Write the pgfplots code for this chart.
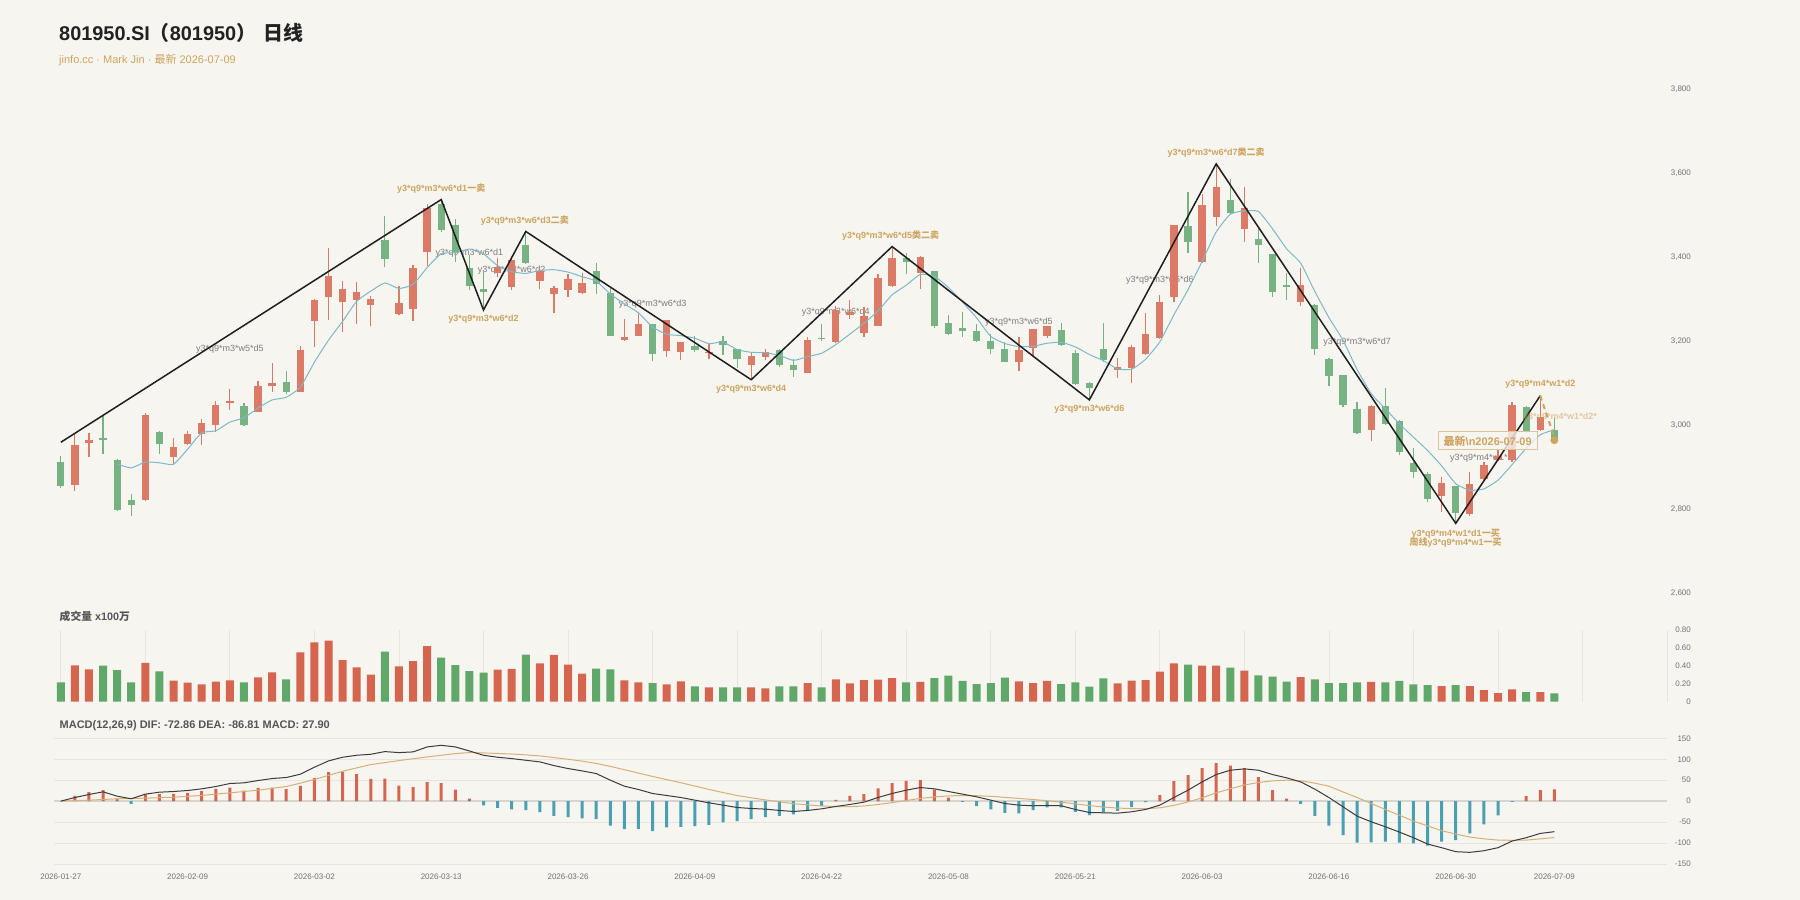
\documentclass[border=0pt]{standalone}
\usepackage{pgfplots}
\usepackage{pgfplotstable}
\pgfplotsset{compat=1.18}
\usepackage{fontspec}
\setmainfont{Liberation Sans}
\newfontfamily\cjk{Noto Sans CJK SC}
\definecolor{bg}{RGB}{247,245,240}
\definecolor{cred}{RGB}{219,122,102}
\definecolor{cgreen}{RGB}{118,178,130}
\definecolor{vred}{RGB}{213,101,78}
\definecolor{vgreen}{RGB}{96,168,106}
\definecolor{mteal}{RGB}{72,160,178}
\definecolor{cma}{RGB}{125,185,200}
\definecolor{cdif}{RGB}{60,60,60}
\definecolor{cdea}{RGB}{214,176,120}
\definecolor{cgold}{RGB}{206,164,96}
\definecolor{cgoldl}{RGB}{222,196,150}
\definecolor{cgrayt}{RGB}{125,125,125}
\definecolor{tick}{RGB}{115,115,115}
\definecolor{cgrid}{RGB}{230,229,225}
\definecolor{czero}{RGB}{214,213,208}
\definecolor{ctitle}{RGB}{34,34,34}
\definecolor{csub}{RGB}{85,85,85}

\pgfplotstableread{
i o h l c v
1 2859 2979 2845 2954 0.406
2 2959 2981 2924 2965 0.361
6 2823 3029 2821 3024 0.432
8 2924 2970 2905 2949 0.234
9 2955 2987 2954 2979 0.212
10 2980 3016 2954 3005 0.193
11 3000 3058 2984 3048 0.223
12 3055 3086 3037 3059 0.238
14 3032 3106 3031 3095 0.272
15 3093 3149 3079 3101 0.327
17 3080 3189 3079 3179 0.551
18 3248 3301 3187 3299 0.662
19 3306 3422 3252 3357 0.681
20 3293 3345 3222 3325 0.465
21 3298 3341 3241 3318 0.383
22 3288 3309 3238 3301 0.301
24 3266 3331 3264 3291 0.394
25 3277 3382 3248 3374 0.454
26 3413 3528 3380 3518 0.621
31 3364 3399 3353 3377 0.357
32 3329 3403 3323 3395 0.365
34 3345 3379 3325 3368 0.428
35 3312 3331 3267 3327 0.521
36 3323 3361 3307 3348 0.413
37 3315 3363 3313 3340 0.313
40 3204 3254 3202 3210 0.238
41 3214 3268 3213 3241 0.216
43 3178 3251 3163 3250 0.193
44 3174 3199 3156 3198 0.227
46 3172 3194 3158 3176 0.160
49 3145 3172 3109 3166 0.160
50 3164 3183 3156 3174 0.149
53 3126 3210 3125 3204 0.208
55 3198 3285 3196 3276 0.249
56 3263 3299 3253 3271 0.205
57 3221 3282 3210 3260 0.242
58 3237 3360 3236 3351 0.246
59 3331 3426 3329 3398 0.264
61 3363 3404 3326 3400 0.220
68 3150 3210 3129 3180 0.227
69 3184 3230 3164 3229 0.208
70 3214 3238 3208 3237 0.231
75 3131 3160 3113 3140 0.205
76 3136 3191 3101 3188 0.234
77 3170 3269 3168 3218 0.242
78 3208 3310 3206 3295 0.335
79 3305 3478 3293 3477 0.428
81 3390 3552 3388 3526 0.402
82 3496 3623 3476 3568 0.402
84 3468 3568 3438 3518 0.346
88 3295 3375 3284 3335 0.275
93 2990 3048 2963 3047 0.220
98 2832 2878 2793 2864 0.175
100 2789 2889 2785 2860 0.175
101 2872 2914 2870 2906 0.130
102 2918 2942 2916 2928 0.097
103 2918 3055 2912 3049 0.138
105 2990 3071 2986 3021 0.108
}\up

\pgfplotstableread{
i o h l c v
0 2913 2928 2851 2855 0.216
3 2969 3024 2932 2967 0.402
4 2918 2920 2797 2799 0.353
5 2823 2836 2785 2810 0.216
7 2984 2986 2932 2956 0.339
13 3047 3053 2999 3001 0.216
16 3103 3130 3075 3080 0.249
23 3442 3499 3377 3396 0.558
27 3528 3538 3460 3465 0.491
28 3478 3491 3389 3410 0.409
29 3374 3406 3323 3333 0.342
30 3325 3371 3275 3317 0.324
33 3430 3462 3385 3388 0.525
38 3368 3387 3314 3336 0.368
39 3316 3330 3213 3214 0.361
42 3241 3242 3154 3171 0.208
45 3190 3212 3176 3179 0.171
47 3201 3212 3168 3191 0.160
48 3181 3182 3137 3159 0.160
51 3179 3183 3140 3145 0.171
52 3144 3158 3115 3131 0.171
54 3209 3241 3202 3206 0.160
60 3399 3410 3361 3390 0.216
62 3367 3369 3233 3237 0.264
63 3244 3262 3216 3218 0.290
64 3233 3270 3210 3224 0.231
65 3225 3241 3198 3201 0.197
66 3201 3217 3171 3181 0.208
67 3181 3198 3151 3152 0.268
71 3228 3244 3190 3192 0.197
72 3172 3180 3097 3098 0.216
73 3102 3104 3061 3089 0.167
74 3182 3244 3151 3155 0.260
80 3476 3556 3411 3438 0.413
83 3536 3587 3500 3506 0.380
85 3444 3470 3388 3430 0.294
86 3408 3409 3306 3319 0.279
87 3333 3363 3298 3330 0.223
89 3288 3289 3168 3182 0.249
90 3159 3160 3095 3119 0.208
91 3120 3121 3045 3049 0.208
92 3039 3057 2980 2982 0.216
94 3047 3089 3002 3004 0.216
95 3011 3012 2930 2938 0.231
96 2910 2946 2874 2890 0.193
97 2884 2890 2819 2824 0.186
99 2856 2857 2767 2791 0.186
104 3044 3047 2982 2986 0.108
106 2990 3018 2962 2965 0.093
}\dn

\pgfplotstableread{
i m dif dea
0 0 0 0
1 12.7 8.7 1.2
2 21.4 15.9 2.4
3 26.2 22.2 4
4 6.3 11.9 5.6
5 -6.3 5.6 6.4
6 15.9 16.7 7.1
7 16.7 21.4 8.3
8 17.5 23 9.5
9 19.8 25.4 11.5
10 23.8 29.4 13.5
11 29.4 34.9 16.7
12 32.5 42.1 19.8
13 25.4 43.7 23
14 31.7 49.2 26.2
15 32.5 54 30.5
16 28.6 56.4 34.9
17 36.5 64.3 43
18 54.8 81 51.6
19 69.1 96 61.5
20 70.6 104.8 71.4
21 64.3 109.5 79.4
22 53.2 111.9 87.3
23 54 118.3 92
24 37.3 115.9 96.8
25 33.3 117.5 101.2
26 45.2 129.4 105.6
27 42.9 133.3 109.5
28 27.8 129.4 113.5
29 6.3 119.8 115.9
30 -10.3 109.5 115.1
31 -15.9 104.8 113.8
32 -19.8 101.6 112.5
33 -21.4 97.6 110.5
34 -26.2 93.7 108
35 -34.9 84.9 104
36 -38.1 77.8 100
37 -41.3 72.2 95.5
38 -42.9 65.9 90
39 -58.7 50 83
40 -66.7 35.7 75
41 -66.7 27.8 67
42 -71.4 18.3 59
43 -62.7 13.5 51.5
44 -61.1 8.7 44
45 -59.5 2.4 36
46 -56.4 -4 28
47 -50.8 -9.5 20.5
48 -47.6 -15.1 13.5
49 -42.9 -17.5 8
50 -38.1 -19 3
51 -34.9 -22.2 -1.5
52 -31.7 -24.6 -6
53 -20.6 -22.2 -9
54 -11.1 -18.3 -11.5
55 3.2 -12.7 -12.8
56 12.7 -7.9 -13.2
57 16.7 -2.4 -11.5
58 30.2 8.7 -8
59 42.9 18.3 -3.5
60 48.4 26.2 1.5
61 50 32.5 6.5
62 27.8 29.4 10
63 8.7 23 12.5
64 -1.6 16.7 13.5
65 -11.9 10.3 13
66 -19.8 2.4 11.5
67 -27.8 -5.6 9
68 -29.4 -9.5 6.5
69 -21.4 -11.1 4
70 -15.1 -10.3 1
71 -15.1 -11.1 -2.5
72 -25.4 -19.8 -6.5
73 -33.3 -27 -10.5
74 -27 -27.8 -14
75 -23 -28.6 -16.5
76 -14.3 -25.4 -17.8
77 -2.4 -19.8 -18
78 14.3 -9.5 -16
79 47.6 8.7 -10
80 61.9 26.2 -2
81 78.6 46 8
82 90.5 63.5 19.8
83 84.9 73.8 29.5
84 78.6 77 38.5
85 57.1 73.8 44.5
86 26.2 63.5 48.4
87 6.3 55.6 50
88 -6.3 46 48.4
89 -34.9 28.6 43
90 -58.7 8.7 35.7
91 -81 -13.5 22
92 -99.2 -35.7 8.7
93 -98.4 -49.2 -5.5
94 -96.8 -61.1 -19.8
95 -99.2 -73.8 -33.7
96 -100.8 -87.3 -47.6
97 -106.3 -102.4 -59
98 -96.8 -111.1 -70.6
99 -92.9 -120.6 -78.5
100 -77 -122.2 -85.7
101 -55.6 -118.3 -90
102 -34.1 -111.1 -92.9
103 -1.6 -95.2 -93.5
104 11.9 -87.3 -92.9
105 26.2 -77 -90
106 27.9 -72.86 -86.81
}\macd

\pgfplotsset{
  panel/.style={
    anchor=south west, scale only axis, width=1613.3pt,
    xmin=-0.5, xmax=114,
    axis line style={draw=none}, tick style={draw=none},
    yticklabel pos=right,
    yticklabel style={anchor=east, inner sep=0pt, xshift=24pt,
      font=\fontsize{8}{9}\selectfont, text=tick},
  },
  candle/.style n args={2}{draw=none, mark=none, forget plot,
    error bars/.cd, y dir=both, y explicit, error mark=none,
    error bar style={draw=#1, line width=#2, solid}},
}
\tikzset{
  gl/.style={font=\bfseries\fontsize{9}{10}\selectfont, text=cgold, inner sep=0pt},
  gr/.style={font=\fontsize{9}{10}\selectfont, text=cgrayt, inner sep=0pt},
}

\begin{document}
\begin{tikzpicture}
\useasboundingbox (0pt,0pt) rectangle (1800pt,900pt);
\fill[bg] (0pt,0pt) rectangle (1800pt,900pt);

\node[anchor=base west, inner sep=0pt, text=ctitle, font=\bfseries\fontsize{19.9}{22}\selectfont] at (59pt,859.5pt) {801950.SI{\cjk （}801950{\cjk ）}\hspace{7pt}{\cjk 日线}};
\node[anchor=base west, inner sep=0pt, text=cgold, font=\fontsize{11}{13}\selectfont] at (59pt,836.7pt) {jinfo.cc · Mark Jin · {\cjk 最新} 2026-07-09};
\node[anchor=base west, inner sep=0pt, text=csub, font=\bfseries\fontsize{10.8}{12}\selectfont] at (59.5pt,279pt) {{\cjk 成交量} x100{\cjk 万}};
\node[anchor=base west, inner sep=0pt, text=csub, font=\bfseries\fontsize{11}{12}\selectfont] at (59.5pt,171.7pt) {MACD(12,26,9) DIF: -72.86 DEA: -86.81 MACD: 27.90};

% ---------------- candles
\begin{axis}[panel, at={(53.75pt,306.5pt)}, height=504pt,
  ymin=2600, ymax=3800, xtick=\empty,
  ytick={2600,2800,3000,3200,3400,3600,3800},
  yticklabels={{2,600},{2,800},{3,000},{3,200},{3,400},{3,600},{3,800}},
  clip=false]

\node[gr] at (axis cs:12,3181) {y3*q9*m3*w5*d5};
\node[gr] at (axis cs:29,3410) {y3*q9*m3*w6*d1};
\node[gr] at (axis cs:32,3371) {y3*q9*m3*w6*d2};
\node[gr] at (axis cs:42,3289) {y3*q9*m3*w6*d3};
\node[gr] at (axis cs:55,3270) {y3*q9*m3*w6*d4};
\node[gr] at (axis cs:68,3245) {y3*q9*m3*w6*d5};
\node[gr] at (axis cs:78,3345) {y3*q9*m3*w6*d6};
\node[gr] at (axis cs:92,3198.5) {y3*q9*m3*w6*d7};
\node[gr] at (axis cs:101,2922) {y3*q9*m4*w1*d1};

% wicks
\addplot[candle={cred}{1.2pt}]
  table[x=i, y expr={(\thisrow{h}+\thisrow{l})/2}, y error expr={(\thisrow{h}-\thisrow{l})/2}] {\up};
\addplot[candle={cgreen}{1.2pt}]
  table[x=i, y expr={(\thisrow{h}+\thisrow{l})/2}, y error expr={(\thisrow{h}-\thisrow{l})/2}] {\dn};
% bodies
\addplot[candle={cred}{7.3pt}]
  table[x=i, y expr={(\thisrow{o}+\thisrow{c})/2}, y error expr={max(abs(\thisrow{c}-\thisrow{o})/2,2)}] {\up};
\addplot[candle={cgreen}{7.3pt}]
  table[x=i, y expr={(\thisrow{o}+\thisrow{c})/2}, y error expr={max(abs(\thisrow{c}-\thisrow{o})/2,2)}] {\dn};

% MA5
\addplot[cma, line width=1pt, smooth, tension=0.3, mark=none] coordinates {
(4,2908) (5,2899) (6,2913) (7,2911.2) (8,2907.6) (9,2943.6) (10,2982.6) (11,2987.4) (12,3008) (13,3018.4)
(14,3041.6) (15,3060.8) (16,3067.2) (17,3091.2) (18,3150.8) (19,3203.2) (20,3248) (21,3295.6) (22,3320) (23,3339.4)
(24,3326.2) (25,3336) (26,3376) (27,3408.8) (28,3411.6) (29,3420) (30,3408.6) (31,3380.4) (32,3366.4) (33,3362)
(34,3369) (35,3371) (36,3365.2) (37,3354.2) (38,3343.8) (39,3313) (40,3289.6) (41,3268.2) (42,3234.4) (43,3217.2)
(44,3214) (45,3207.8) (46,3194.8) (47,3198.8) (48,3180.6) (49,3174.2) (50,3173.2) (51,3167) (52,3155) (53,3164)
(54,3172) (55,3192.4) (56,3217.6) (57,3243.4) (58,3272.8) (59,3311.2) (60,3334) (61,3359.8) (62,3355.2) (63,3328.6)
(64,3293.8) (65,3256) (66,3212.2) (67,3195.2) (68,3187.6) (69,3188.6) (70,3195.8) (71,3198) (72,3187.2) (73,3169)
(74,3154.2) (75,3134.8) (76,3134) (77,3158) (78,3199.2) (79,3263.6) (80,3323.2) (81,3390.8) (82,3460.8) (83,3503)
(84,3511.2) (85,3509.6) (86,3468.2) (87,3420.6) (88,3386.4) (89,3319.2) (90,3257) (91,3203) (92,3133.4) (93,3075.8)
(94,3040.2) (95,3004) (96,2972.2) (97,2940.6) (98,2904) (99,2861.4) (100,2845.8) (101,2849) (102,2869.8) (103,2906.8)
(104,2945.8) (105,2978) (106,2989.8)};

% zigzag
\addplot[black!88, line width=1.5pt, mark=none] coordinates {
(0,2960) (27,3538) (30,3275) (33,3462) (49,3109) (59,3426) (73,3061) (82,3623) (99,2767) (105,3071)};
\addplot[cgold, line width=2pt, dash pattern=on 5pt off 4pt, mark=none] coordinates {(105,3071) (106,2972)};
\addplot[cgold, only marks, mark=*, mark size=3.7pt, mark options={fill=cgold, draw=cgold, solid}] coordinates {(106,2965)};

\node[gl] at (axis cs:27,3563) {y3*q9*m3*w6*d1{\cjk 一卖}};
\node[gl] at (axis cs:30,3253) {y3*q9*m3*w6*d2};
\node[gl] at (axis cs:32.94,3488) {y3*q9*m3*w6*d3{\cjk 二卖}};
\node[gl] at (axis cs:49,3087) {y3*q9*m3*w6*d4};
\node[gl] at (axis cs:58.9,3451) {y3*q9*m3*w6*d5{\cjk 类二卖}};
\node[gl] at (axis cs:73,3039) {y3*q9*m3*w6*d6};
\node[gl] at (axis cs:82,3649) {y3*q9*m3*w6*d7{\cjk 类二卖}};
\node[gl] at (axis cs:99,2742) {y3*q9*m4*w1*d1{\cjk 一买}};
\node[gl] at (axis cs:99,2721) {{\cjk 周线}y3*q9*m4*w1{\cjk 一买}};
\node[gl] at (axis cs:105,3098) {y3*q9*m4*w1*d2};
\node[gl, text opacity=0.55] at (axis cs:106.4,3020) {y3*q9*m4*w1*d2*};
\node[draw=cgoldl, line width=1pt, fill=bg, fill opacity=0.8, text opacity=1, text=cgold,
  font=\bfseries\fontsize{11}{12}\selectfont, inner sep=0pt, minimum width=99pt, minimum height=18pt]
  at (axis cs:101.27,2963.4) {{\cjk 最新}\textbackslash n2026-07-09};
\end{axis}

% ---------------- volume
\begin{axis}[panel, at={(53.75pt,198.3pt)}, height=71.7pt,
  ymin=0, ymax=0.8,
  xtick={0,6,...,114}, xticklabels={},
  xmajorgrids, grid style={cgrid, line width=0.8pt},
  ytick={0,0.2,0.4,0.6,0.8}, yticklabels={0,0.20,0.40,0.60,0.80}]
\addplot[ybar, bar width=8pt, fill=vred, draw=none] table[x=i, y=v] {\up};
\addplot[ybar, bar width=8pt, fill=vgreen, draw=none] table[x=i, y=v] {\dn};
\end{axis}

% ---------------- MACD
\begin{axis}[panel, at={(53.75pt,36pt)}, height=125.7pt,
  ymin=-150, ymax=150,
  ytick={-150,-100,-50,0,50,100,150},
  yticklabels={-150,-100,-50,0,50,100,150},
  ymajorgrids, grid style={cgrid, line width=0.9pt},
  extra y ticks={0}, extra y tick labels={},
  extra y tick style={grid style={czero, line width=1.8pt}},
  xtick={0,9,18,27,36,45,54,63,72,81,90,99,106},
  xticklabels={2026-01-27,2026-02-09,2026-03-02,2026-03-13,2026-03-26,2026-04-09,2026-04-22,2026-05-08,2026-05-21,2026-06-03,2026-06-16,2026-06-30,2026-07-09},
  xticklabel style={font=\fontsize{8}{9}\selectfont, text=tick, yshift=-6pt}]
\addplot[ybar, bar width=3pt, fill=vred, draw=none] table[x=i, y expr={max(\thisrow{m},0)}] {\macd};
\addplot[ybar, bar width=3pt, fill=mteal, draw=none] table[x=i, y expr={min(\thisrow{m},0)}] {\macd};
\addplot[cdea, line width=1pt, mark=none] table[x=i, y=dea] {\macd};
\addplot[cdif, line width=1pt, mark=none] table[x=i, y=dif] {\macd};
\end{axis}
\end{tikzpicture}
\end{document}
